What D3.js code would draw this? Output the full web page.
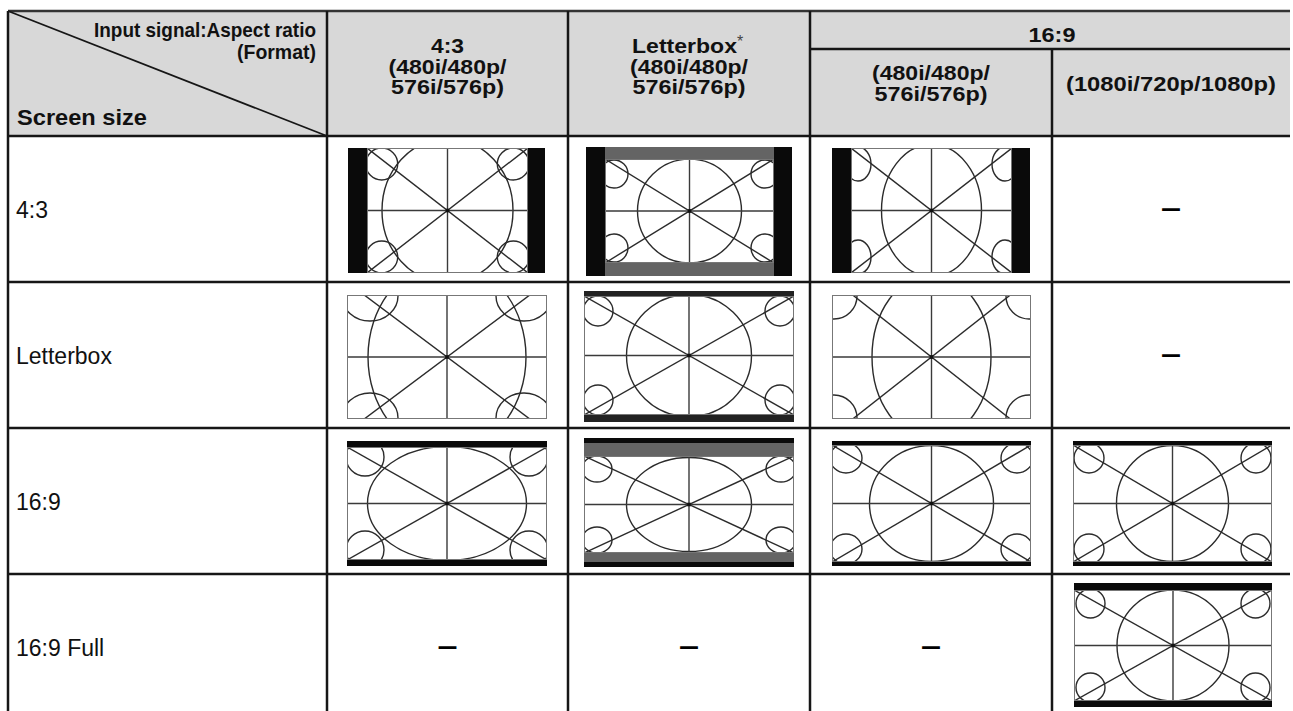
<!DOCTYPE html>
<html><head><meta charset="utf-8">
<script src="https://cdn.jsdelivr.net/npm/d3@7"></script>
<style>html,body{margin:0;padding:0;background:#fff;} svg{display:block}</style>
</head><body><svg id="c" width="1293" height="711"></svg>
<script>
// ---------- data ----------
const rowLabels = ["4:3", "Letterbox", "16:9", "16:9 Full"];
const colKeys = ["in43", "inLB", "in169sd", "in169hd"];
const colHeaderLines = [
  ["4:3", "(480i/480p/", "576i/576p)"],
  ["Letterbox", "(480i/480p/", "576i/576p)"],
  ["(480i/480p/", "576i/576p)"],
  ["(1080i/720p/1080p)"]
];
const groupHeader = "16:9";
const cornerTopLines = ["Input signal:Aspect ratio", "(Format)"];
const cornerBottom = "Screen size";
const footnoteMark = "*";
const NA = "–";
// which picture each screen size (row) shows for each input format (column); null = not applicable
const cells = [
  ["p43_43",  "p43_lb",  "p43_169",  null],
  ["plb_43",  "plb_lb",  "plb_169",  null],
  ["p169_43", "p169_lb", "p169_169", "p169_hd"],
  [null,      null,      null,       "pfull_hd"]
];

// ---------- picture styles (offsets inside a cell) ----------
const BLACK = "#0a0a0a", GRAY = "#646464";
const pictures = {
  p43_43:  {box:[21,12,197,125], left:[[19,BLACK]], right:[[17,BLACK]], top:[], bottom:[], ell:[65.5,72], corner:[14.7,16,16,16]},
  p43_lb:  {box:[18,11,206,129], left:[[19,BLACK]], right:[[18,BLACK]], top:[[12,GRAY]], bottom:[[13,GRAY]], ell:[52,52], corner:[9,15,14,14]},
  p43_169: {box:[22,12,198,125], left:[[19,BLACK]], right:[[18,BLACK]], top:[], bottom:[], ell:[50,66], corner:[7,16,13,17]},
  plb_43:  {box:[20,13,200,124], left:[], right:[], top:[], bottom:[], ell:[79,95], corner:[23,1,28,25], slope:0.749},
  plb_lb:  {box:[16,9,210,131], left:[], right:[], top:[[5,"#222"]], bottom:[[7,"#222"]], ell:[62.5,61], corner:[14,15,15,15]},
  plb_169: {box:[22,13,199,124], left:[], right:[], top:[], bottom:[], ell:[59.5,82], corner:[2,1,23,23], slope:0.787},
  p169_43: {box:[20,13,200,125], left:[], right:[], top:[[6,BLACK]], bottom:[[6,BLACK]], ell:[79.5,57], corner:[18,10,19,19]},
  p169_lb: {box:[16,10,210,129], left:[], right:[], top:[[5,BLACK],[13,GRAY]], bottom:[[5,BLACK],[9,GRAY]], ell:[62.5,47], corner:[13,13,15,13]},
  p169_169:{box:[22,13,199,125], left:[], right:[], top:[[4,BLACK]], bottom:[[4,BLACK]], ell:[62,58], corner:[14,13,16,15]},
  p169_hd: {box:[21,13,199,125], left:[], right:[], top:[[4,BLACK]], bottom:[[4,BLACK]], ell:[56,58], corner:[16,13,15,15]},
  pfull_hd:{box:[22,9,198,124], left:[], right:[], top:[[7,BLACK]], bottom:[[6,BLACK]], ell:[56,55.5], corner:[16.5,13.5,14.5,14.5]}
};

// ---------- layout ----------
const svg = d3.select("#c");
const FONT = "'Liberation Sans', Arial, Helvetica, sans-serif";
const NARROW = "'Liberation Sans Narrow', 'Arial Narrow', 'Liberation Sans', Arial, sans-serif";
const edgeKeys = ["label", ...colKeys, "end"];
const xEdge = d3.scaleOrdinal().domain(edgeKeys).range([8, 327, 568, 810, 1052, 1290]);
const yTop = 11, yHead = 136, ySub = 49;
const y = d3.scaleBand().domain(rowLabels).range([yHead, yHead + 146 * rowLabels.length]);
const colLeft = k => xEdge(k);
const colRight = k => xEdge(edgeKeys[edgeKeys.indexOf(k) + 1]);
const colMid = k => (colLeft(k) + colRight(k)) / 2;
const xL = xEdge("label"), xR = xEdge("end");

// header background
svg.append("rect").attr("x", xL).attr("y", yTop).attr("width", xR - xL).attr("height", yHead - yTop).attr("fill", "#d8d8d8");

// header texts
const HS = 20.5;
const hdr = svg.append("g").attr("font-family", FONT).attr("font-weight", "bold").attr("fill", "#111");
function htext(str, x, yb, len, anchor, size, fam) {
  return hdr.append("text").attr("x", x).attr("y", yb).attr("text-anchor", anchor || "middle")
    .attr("font-size", size || HS).attr("font-family", fam || FONT)
    .attr("textLength", len).attr("lengthAdjust", "spacingAndGlyphs").text(str);
}
htext(cornerTopLines[0], 316, 37, 222, "end", 21, NARROW);
htext(cornerTopLines[1], 316, 58.5, 79, "end", 21, NARROW);
htext(cornerBottom, 17, 125, 130, "start", 21.5);

const lineWidths = {"4:3": 33, "(480i/480p/": 118, "576i/576p)": 113, "Letterbox": 105, "(1080i/720p/1080p)": 210};
const baseYs = [[53, 73.5, 94], [53, 73.5, 94], [79.5, 101], [91]];
colKeys.forEach((k, i) => {
  colHeaderLines[i].forEach((ln, j) => {
    if (ln === "Letterbox") {
      const mid = colMid(k);
      htext(ln, mid - 57, baseYs[i][j], lineWidths[ln], "start");
      hdr.append("text").attr("x", mid + 48).attr("y", baseYs[i][j] - 6).attr("font-size", 16)
        .attr("font-weight", "normal").attr("fill", "#444").text(footnoteMark);
    } else {
      htext(ln, colMid(k), baseYs[i][j], lineWidths[ln]);
    }
  });
});
htext(groupHeader, (xEdge("in169sd") + xR) / 2 + 2, 41.5, 47);

// row labels
svg.append("g").selectAll("text").data(rowLabels).join("text")
  .attr("x", 16).attr("y", d => y(d) + y.bandwidth() / 2 + 8.5)
  .attr("font-family", FONT).attr("font-size", 23).attr("fill", "#111").text(d => d);

// cells
const defs = svg.append("defs");
function rect(g, x, yy, w, h, fill) {
  g.append("rect").attr("x", x).attr("y", yy).attr("width", w).attr("height", h).attr("fill", fill);
}
function drawPicture(g, s, id) {
  const [bx, by, bw, bh] = s.box;
  rect(g, bx, by, bw, bh, "#fff");
  let l = bx, r = bx + bw;
  s.left.forEach(([w, c]) => { rect(g, l, by, w, bh, c); l += w; });
  s.right.forEach(([w, c]) => { r -= w; rect(g, r, by, w, bh, c); });
  let t = by, b = by + bh;
  s.top.forEach(([h, c]) => { rect(g, l, t, r - l, h, c); t += h; });
  s.bottom.forEach(([h, c]) => { b -= h; rect(g, l, b, r - l, h, c); });
  const cw = r - l, ch = b - t, cx = l + cw / 2, cy = t + ch / 2;
  defs.append("clipPath").attr("id", id).append("rect").attr("x", l).attr("y", t).attr("width", cw).attr("height", ch);
  const p = g.append("g").attr("clip-path", `url(#${id})`).attr("fill", "none").attr("stroke", "#2b2b2b").attr("stroke-width", 1.4);
  p.append("ellipse").attr("cx", cx).attr("cy", cy).attr("rx", s.ell[0]).attr("ry", s.ell[1]);
  const [dx, dy, crx, cry] = s.corner;
  [[l + dx, t + dy], [r - dx, t + dy], [l + dx, b - dy], [r - dx, b - dy]].forEach(([ex, ey]) =>
    p.append("ellipse").attr("cx", ex).attr("cy", ey).attr("rx", crx).attr("ry", cry));
  const sl = s.slope || ch / cw, L = cw;
  p.append("line").attr("x1", cx - L).attr("y1", cy - L * sl).attr("x2", cx + L).attr("y2", cy + L * sl);
  p.append("line").attr("x1", cx - L).attr("y1", cy + L * sl).attr("x2", cx + L).attr("y2", cy - L * sl);
  p.append("line").attr("x1", cx).attr("y1", t).attr("x2", cx).attr("y2", b).attr("stroke", "#3a3a3a");
  p.append("line").attr("x1", l).attr("y1", cy).attr("x2", r).attr("y2", cy).attr("stroke", "#3a3a3a");
  g.append("rect").attr("x", cx - 1.8).attr("y", cy - 1.8).attr("width", 3.6).attr("height", 3.6).attr("fill", "#111");
  g.append("rect").attr("x", l + 0.5).attr("y", t + 0.5).attr("width", cw - 1).attr("height", ch - 1)
    .attr("fill", "none").attr("stroke", "#777").attr("stroke-width", 1);
}
const cellG = svg.append("g");
rowLabels.forEach((rl, ri) => {
  colKeys.forEach((ck, ci) => {
    const key = cells[ri][ci];
    const g = cellG.append("g").attr("transform", `translate(${colLeft(ck)},${y(rl)})`);
    if (key) drawPicture(g, pictures[key], `clip-${ri}-${ci}`);
    else g.append("text").attr("x", (colRight(ck) - colLeft(ck)) / 2).attr("y", y.bandwidth() / 2 + 8)
      .attr("text-anchor", "middle").attr("font-family", FONT).attr("font-weight", "bold")
      .attr("font-size", 28).attr("textLength", 20).attr("lengthAdjust", "spacingAndGlyphs").attr("fill", "#000").text(NA);
  });
});

// grid lines
const grid = svg.append("g").attr("stroke", "#161616").attr("stroke-width", 2.5).attr("fill", "none");
const yBottom = y.range()[1];
grid.append("line").attr("x1", xL).attr("x2", xR).attr("y1", yTop).attr("y2", yTop).attr("stroke", "#333");
grid.append("line").attr("x1", xL).attr("x2", xL).attr("y1", yTop).attr("y2", yBottom);
["in43", "inLB", "in169sd"].forEach(k =>
  grid.append("line").attr("x1", colLeft(k)).attr("x2", colLeft(k)).attr("y1", yTop).attr("y2", yBottom));
grid.append("line").attr("x1", colLeft("in169hd")).attr("x2", colLeft("in169hd")).attr("y1", ySub).attr("y2", yBottom);
grid.append("line").attr("x1", xEdge("in169sd")).attr("x2", xR).attr("y1", ySub).attr("y2", ySub);
[yHead, ...rowLabels.slice(1).map(d => y(d))].forEach(v =>
  grid.append("line").attr("x1", xL).attr("x2", xR).attr("y1", v).attr("y2", v));
grid.append("line").attr("x1", xL).attr("y1", yTop).attr("x2", colLeft("in43")).attr("y2", yHead).attr("stroke-width", 1.8);
</script></body></html>
